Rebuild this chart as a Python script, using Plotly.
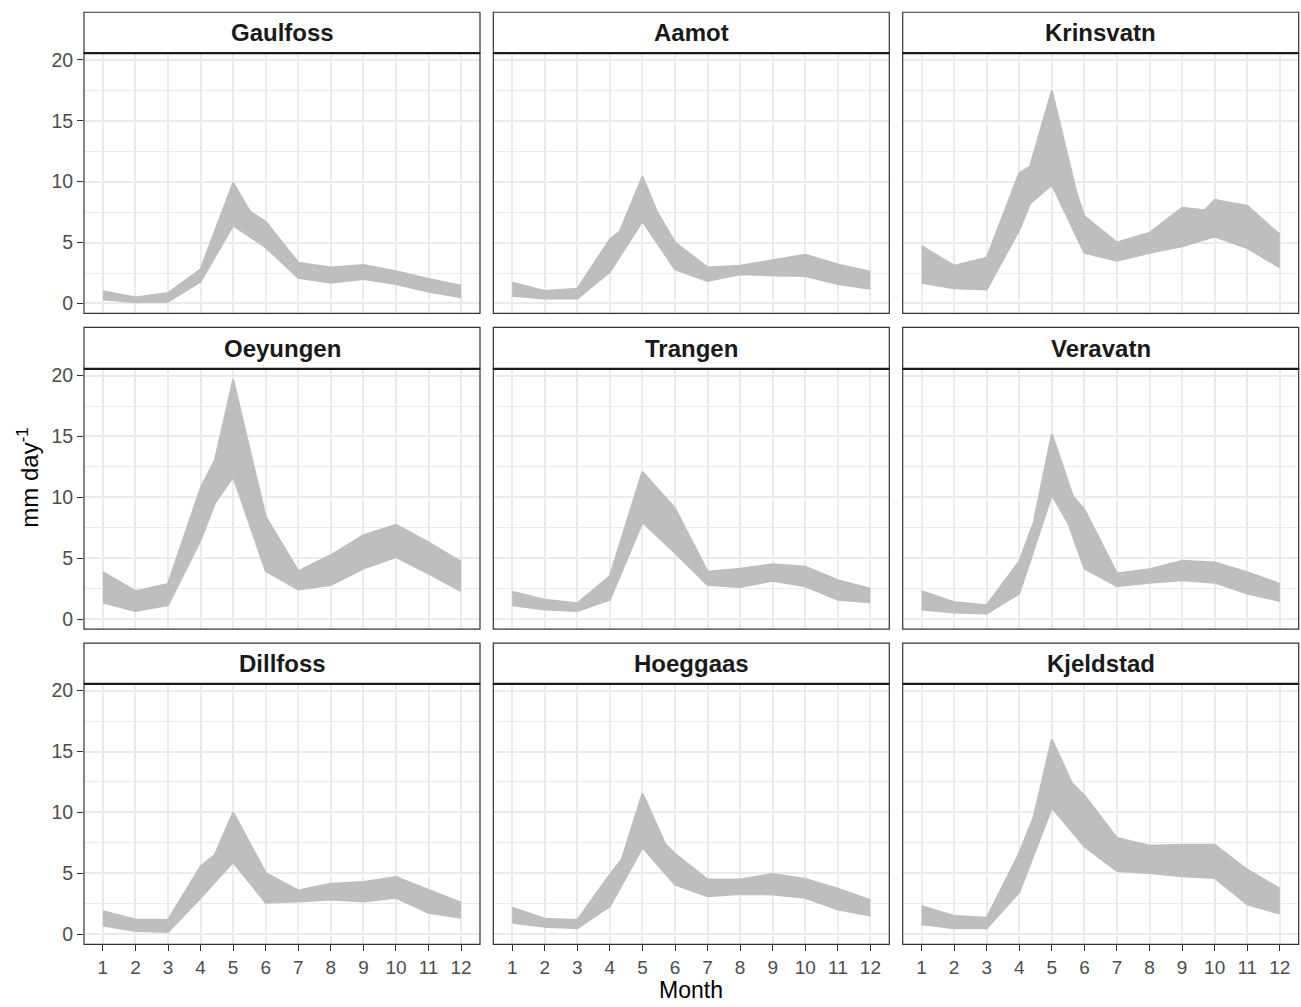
import plotly.graph_objects as go

months = list(range(1, 13))
stations = ["Gaulfoss", "Aamot", "Krinsvatn",
            "Oeyungen", "Trangen", "Veravatn",
            "Dillfoss", "Hoeggaas", "Kjeldstad"]

# Envelope of the ensemble of monthly runoff curves (mm/day)
gaulfoss_upper = [1.0, 0.5, 0.85, 2.8, 9.9, 6.7, 3.35, 2.95, 3.15, 2.65, 2.0, 1.45]
gaulfoss_lower = [0.35, 0.1, 0.15, 1.8, 6.4, 4.6, 2.1, 1.7, 2.0, 1.6, 0.95, 0.5]
aamot_upper = [1.7, 1.03, 1.2, 5.25, 10.4, 5.0, 2.95, 3.1, 3.55, 4.0, 3.2, 2.6]
aamot_lower = [0.63, 0.4, 0.4, 2.6, 6.75, 2.8, 1.85, 2.4, 2.3, 2.25, 1.6, 1.2]
krinsvatn_upper = [4.7, 3.1, 3.75, 10.7, 17.45, 7.15, 5.0, 5.8, 7.85, 8.5, 8.0, 5.65]
krinsvatn_lower = [1.7, 1.25, 1.15, 6.05, 9.75, 4.15, 3.5, 4.15, 4.7, 5.5, 4.55, 2.95]
oeyungen_upper = [3.86, 2.3, 2.9, 10.75, 19.65, 8.4, 3.95, 5.25, 6.9, 7.75, 6.3, 4.7]
oeyungen_lower = [1.36, 0.68, 1.15, 6.5, 11.7, 3.95, 2.45, 2.8, 4.15, 5.1, 3.75, 2.3]
trangen_upper = [2.25, 1.6, 1.3, 3.55, 12.1, 9.1, 3.9, 4.15, 4.5, 4.3, 3.2, 2.5]
trangen_lower = [1.15, 0.8, 0.68, 1.6, 7.95, 5.45, 2.8, 2.65, 3.15, 2.7, 1.6, 1.4]
veravatn_upper = [2.3, 1.4, 1.15, 4.75, 15.2, 9.0, 3.75, 4.1, 4.8, 4.65, 3.85, 2.9]
veravatn_lower = [0.8, 0.55, 0.46, 2.1, 10.2, 4.15, 2.7, 3.0, 3.2, 3.0, 2.1, 1.5]
dillfoss_upper = [1.9, 1.22, 1.17, 5.58, 10.0, 5.03, 3.6, 4.15, 4.3, 4.7, 3.65, 2.6]
dillfoss_lower = [0.73, 0.27, 0.19, 3.0, 5.93, 2.6, 2.7, 2.85, 2.7, 3.0, 1.77, 1.36]
hoeggaas_upper = [2.18, 1.28, 1.17, 4.9, 11.56, 6.6, 4.5, 4.5, 4.95, 4.55, 3.75, 2.8]
hoeggaas_lower = [0.95, 0.63, 0.49, 2.3, 7.13, 4.08, 3.13, 3.3, 3.27, 3.0, 2.04, 1.55]
kjeldstad_upper = [2.3, 1.5, 1.36, 6.67, 16.0, 11.4, 7.9, 7.27, 7.35, 7.35, 5.3, 3.75]
kjeldstad_lower = [0.82, 0.49, 0.49, 3.46, 10.4, 7.2, 5.2, 5.03, 4.76, 4.63, 2.45, 1.7]

# Points where crossing curves bend the band edge between months (month position: value)
gaulfoss_upper_bends = {5.51: 7.56}
aamot_upper_bends = {4.31: 5.93, 5.44: 7.56}
krinsvatn_upper_bends = {4.33: 11.24, 5.77: 8.93, 9.7: 7.65}
krinsvatn_lower_bends = {4.33: 8.2}
oeyungen_upper_bends = {4.44: 13.06}
oeyungen_lower_bends = {4.44: 9.52}
veravatn_upper_bends = {4.44: 7.9, 5.65: 10.07}
veravatn_lower_bends = {5.5: 7.9}
dillfoss_upper_bends = {4.44: 6.53}
hoeggaas_upper_bends = {4.36: 6.12, 5.7: 7.4}
kjeldstad_upper_bends = {4.44: 9.6, 5.62: 12.38}

envelopes = {
    "Gaulfoss": (gaulfoss_lower, gaulfoss_upper, {}, gaulfoss_upper_bends),
    "Aamot": (aamot_lower, aamot_upper, {}, aamot_upper_bends),
    "Krinsvatn": (krinsvatn_lower, krinsvatn_upper, krinsvatn_lower_bends, krinsvatn_upper_bends),
    "Oeyungen": (oeyungen_lower, oeyungen_upper, oeyungen_lower_bends, oeyungen_upper_bends),
    "Trangen": (trangen_lower, trangen_upper, {}, {}),
    "Veravatn": (veravatn_lower, veravatn_upper, veravatn_lower_bends, veravatn_upper_bends),
    "Dillfoss": (dillfoss_lower, dillfoss_upper, {}, dillfoss_upper_bends),
    "Hoeggaas": (hoeggaas_lower, hoeggaas_upper, {}, hoeggaas_upper_bends),
    "Kjeldstad": (kjeldstad_lower, kjeldstad_upper, {}, kjeldstad_upper_bends),
}

y_ticks = [0, 5, 10, 15, 20]
y_minor = [2.5, 7.5, 12.5, 17.5]


def edge(values, bends):
    pts = dict(zip(months, values))
    pts.update(bends)
    xs = sorted(pts)
    return xs, [pts[x] for x in xs]


W, H = 1301, 1007
col_left = [84, 493.3, 902.7]
panel_w = 396
strip_top = [8.3, 325.0, 642.3]
plot_top = [49.3, 366.7, 683.3]
plot_bot = [311.0, 628.3, 945.0]

LINE = "#BEBEBE"
GRID = "#EBEBEB"
FONT = "Liberation Sans, Arial, Helvetica, sans-serif"

fig = go.Figure()
layout = dict(
    width=W, height=H,
    margin=dict(l=0, r=0, t=0, b=0),
    paper_bgcolor="white", plot_bgcolor="white",
    showlegend=False,
    font=dict(family=FONT, color="#4D4D4D"),
)
shapes = []
annotations = []

for i, name in enumerate(stations):
    r, c = divmod(i, 3)
    k = i + 1
    xa = "x" if k == 1 else f"x{k}"
    ya = "y" if k == 1 else f"y{k}"
    lower, upper, lbends, ubends = envelopes[name]
    lx, ly = edge(lower, lbends)
    ux, uy = edge(upper, ubends)
    fig.add_trace(go.Scatter(x=lx, y=ly, mode="lines", xaxis=xa, yaxis=ya,
                             line=dict(color=LINE, width=2), hoverinfo="skip"))
    fig.add_trace(go.Scatter(x=ux, y=uy, mode="lines", xaxis=xa, yaxis=ya,
                             line=dict(color=LINE, width=2), fill="tonexty",
                             fillcolor=LINE, hoverinfo="skip"))

    x0 = col_left[c] / W
    x1 = (col_left[c] + panel_w) / W
    y0 = 1 - plot_bot[r] / H
    y1 = 1 - plot_top[r] / H
    bottom = (r == 2)
    left = (c == 0)
    layout["xaxis" if k == 1 else f"xaxis{k}"] = dict(
        domain=[x0, x1], range=[0.42, 12.58], anchor=ya,
        tickvals=months, ticktext=[str(m) for m in months],
        showgrid=True, gridcolor=GRID, gridwidth=1.6, zeroline=False,
        showline=False,
        ticks="outside" if bottom else "", ticklen=6, tickwidth=1.3, tickcolor="#333333",
        showticklabels=bottom, tickfont=dict(size=19, color="#4D4D4D", family=FONT),
    )
    layout["yaxis" if k == 1 else f"yaxis{k}"] = dict(
        domain=[y0, y1], range=[-0.82, 20.55], anchor=xa,
        tickvals=y_ticks, ticktext=[str(v) for v in y_ticks],
        showgrid=True, gridcolor=GRID, gridwidth=1.6, zeroline=False,
        minor=dict(tickvals=y_minor, showgrid=True,
                   gridcolor=GRID, gridwidth=0.9, ticks=""),
        showline=False,
        ticks="outside" if left else "", ticklen=6, tickwidth=1.3, tickcolor="#333333",
        showticklabels=left, tickfont=dict(size=19.5, color="#4D4D4D", family=FONT),
    )
    # panel border
    shapes.append(dict(type="rect", xref="paper", yref="paper",
                       x0=x0, x1=x1, y0=y0, y1=y1,
                       line=dict(color="#333333", width=1.2), layer="above"))
    # strip
    sy0 = 1 - plot_top[r] / H
    sy1 = 1 - strip_top[r] / H
    shapes.append(dict(type="rect", xref="paper", yref="paper",
                       x0=x0, x1=x1, y0=sy0, y1=sy1, fillcolor="white",
                       line=dict(color="#333333", width=1.2), layer="above"))
    shapes.append(dict(type="line", xref="paper", yref="paper",
                       x0=x0, x1=x1, y0=sy0, y1=sy0,
                       line=dict(color="#1A1A1A", width=2.2), layer="above"))
    annotations.append(dict(text=f"<b>{name}</b>", xref="paper", yref="paper",
                            x=(x0 + x1) / 2, y=(sy0 + sy1) / 2,
                            xanchor="center", yanchor="middle", showarrow=False,
                            font=dict(size=24, color="#1A1A1A", family=FONT)))

annotations.append(dict(text="Month", xref="paper", yref="paper",
                        x=(84 + 902.7 + panel_w) / 2 / W, y=1 - 1006 / H,
                        xanchor="center", yanchor="bottom", showarrow=False,
                        font=dict(size=23, color="#000000", family=FONT)))
annotations.append(dict(text="mm day<sup>-1</sup>", xref="paper", yref="paper",
                        x=28 / W, y=1 - 476 / H, textangle=-90,
                        xanchor="center", yanchor="middle", showarrow=False,
                        font=dict(size=24, color="#000000", family=FONT)))

layout["shapes"] = shapes
layout["annotations"] = annotations
fig.update_layout(**layout)
fig.write_html("out.html")
